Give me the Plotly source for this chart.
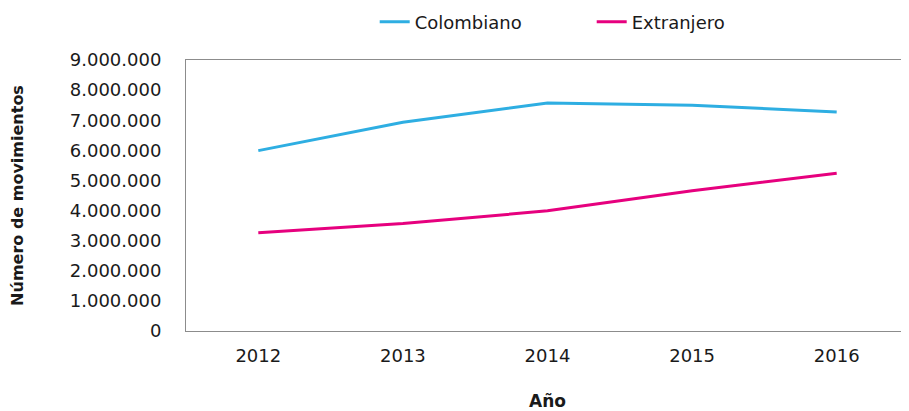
import plotly.graph_objects as go

anios = ["2012", "2013", "2014", "2015", "2016"]
colombiano = [5990000, 6930000, 7570000, 7500000, 7270000]
extranjero = [3260000, 3570000, 3990000, 4660000, 5240000]
y_ticks = [0, 1000000, 2000000, 3000000, 4000000, 5000000,
           6000000, 7000000, 8000000, 9000000]

fuente = "DejaVu Sans"

fig = go.Figure()
fig.add_trace(go.Scatter(x=anios, y=colombiano, mode="lines", name="Colombiano",
                         line=dict(color="#2eaee2", width=3)))
fig.add_trace(go.Scatter(x=anios, y=extranjero, mode="lines", name="Extranjero",
                         line=dict(color="#e6007e", width=3)))

# la página añade 8 px de margen al cuerpo, así que la figura es un poco menor
fig.update_layout(
    width=901, height=403,
    margin=dict(l=178, r=0, t=52, b=80, autoexpand=False),
    separators=",.",
    paper_bgcolor="white", plot_bgcolor="white",
    font=dict(family=fuente, size=18, color="#1a1a1a"),
    showlegend=True,
    legend=dict(orientation="h", x=0.261, xanchor="left", y=1.14, yanchor="middle",
                font=dict(size=18), itemwidth=30, tracegroupgap=0,
                entrywidth=172, entrywidthmode="pixels"),
)
fig.update_xaxes(
    type="category", range=[-0.5, 4.5], automargin=False,
    showline=True, linecolor="#8c8c8c", linewidth=1, mirror=True,
    showgrid=False, ticks="", ticklabelstandoff=8,
    title=dict(text="<b>Año</b>", font=dict(size=17), standoff=31),
)
fig.update_yaxes(
    range=[0, 9000000], tickvals=y_ticks, tickformat=",d", automargin=False,
    showline=True, linecolor="#8c8c8c", linewidth=1, mirror=False,
    showgrid=False, zeroline=False, ticks="", ticklabelstandoff=20,
    title=dict(text="<b>Número de movimientos</b>", font=dict(size=16), standoff=46),
)

fig.write_html("out.html")
